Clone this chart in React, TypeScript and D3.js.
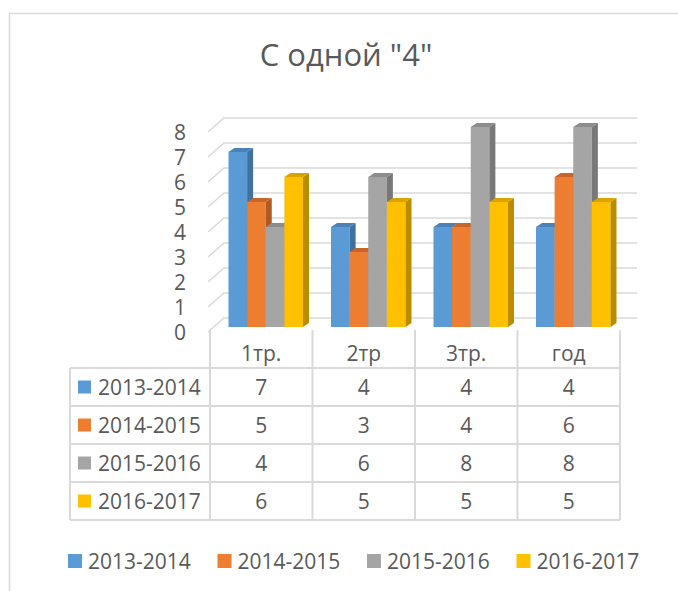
import React from 'react';
import * as d3 from 'd3';

const categories = ['1тр.', '2тр', '3тр.', 'год'];
const seriesNames = ['2013-2014', '2014-2015', '2015-2016', '2016-2017'];
const values2013 = [7, 4, 4, 4];
const values2014 = [5, 3, 4, 6];
const values2015 = [4, 6, 8, 8];
const values2016 = [6, 5, 5, 5];
const yTicks = [0, 1, 2, 3, 4, 5, 6, 7, 8];

const seriesValues = [values2013, values2014, values2015, values2016];
const fills = ['#5B9BD5', '#ED7D31', '#A5A5A5', '#FFC000'];
const sides = ['#41719C', '#AE5A21', '#787878', '#BC8C00'];
const tops = ['#4A82B8', '#C7662A', '#8C8C8C', '#D9A300'];

const W = 678;
const H = 591;
const FONT = '"Open Sans", "Liberation Sans", sans-serif';
const TEXT = '#595959';
const GRID = '#D9D9D9';

// 3d wall offset and bar depth offset
const wallDx = 16;
const wallDy = -14;
const barDx = 6;
const barDy = -4;

const App: React.FC = () => {
  const x = d3.scaleBand<string>().domain(categories).range([210, 620]);
  const y = d3.scaleLinear().domain([0, 8]).range([332, 132]);
  const barY = d3.scaleLinear().domain([0, 8]).range([327, 127]);
  const inner = d3.scaleBand<number>().domain([0, 1, 2, 3]).range([0, 74.5]);

  const rowTop = 368;
  const rowH = 38;
  const headerTop = 330;
  const labelLeft = 70;
  const wallRight = 637;

  return (
    <svg
      width={W}
      height={H}
      style={{ position: 'fixed', left: 0, top: 0, background: '#fff' }}
      fontFamily={FONT}
    >
      <rect x={9.5} y={13.5} width={800} height={800} fill="#fff" stroke={GRID} strokeWidth={1.5} />

      <text x={346} y={66} textAnchor="middle" fontSize={31} fill={TEXT}>
        С одной "4"
      </text>

      {/* back wall gridlines */}
      <g stroke={GRID} strokeWidth={1.5} fill="none">
        {yTicks.map(t => (
          <path
            key={t}
            d={`M${x.range()[0] - 2},${y(t)} L${x.range()[0] - 2 + wallDx},${y(t) + wallDy} L${wallRight},${y(t) + wallDy}`}
          />
        ))}
      </g>

      {yTicks.map(t => (
        <text key={t} x={186} y={y(t)} dy="0.36em" textAnchor="end" fontSize={21} fill={TEXT}>
          {t}
        </text>
      ))}

      {/* bars */}
      {categories.map((c, ci) => (
        <g key={c}>
          {seriesValues.map((vals, si) => {
            const x0 = (x(c) as number) + 18.5 + (inner(si) as number);
            const bw = inner.bandwidth();
            const yt = barY(vals[ci]);
            const yb = barY(0);
            return (
              <g key={si}>
                <rect x={x0} y={yt} width={bw} height={yb - yt} fill={fills[si]} />
                <path
                  d={`M${x0 + bw},${yt} L${x0 + bw + barDx},${yt + barDy} L${x0 + bw + barDx},${yb + barDy} L${x0 + bw},${yb} Z`}
                  fill={sides[si]}
                />
                <path
                  d={`M${x0},${yt} L${x0 + barDx},${yt + barDy} L${x0 + bw + barDx},${yt + barDy} L${x0 + bw},${yt} Z`}
                  fill={tops[si]}
                />
              </g>
            );
          })}
        </g>
      ))}

      {/* data table */}
      <g stroke={GRID} strokeWidth={2} fill="none">
        {x.domain().map(c => (
          <line key={c} x1={x(c)} x2={x(c)} y1={headerTop} y2={rowTop + rowH * 4} />
        ))}
        <line x1={x.range()[1]} x2={x.range()[1]} y1={headerTop} y2={rowTop + rowH * 4} />
        <line x1={labelLeft} x2={labelLeft} y1={rowTop} y2={rowTop + rowH * 4} />
        {[0, 1, 2, 3, 4].map(r => (
          <line key={r} x1={labelLeft} x2={x.range()[1]} y1={rowTop + r * rowH} y2={rowTop + r * rowH} />
        ))}
      </g>

      {categories.map(c => (
        <text
          key={c}
          x={(x(c) as number) + x.bandwidth() / 2}
          y={headerTop + 23}
          dy="0.36em"
          textAnchor="middle"
          fontSize={21}
          fill={TEXT}
        >
          {c}
        </text>
      ))}

      {seriesNames.map((name, si) => {
        const cy = rowTop + si * rowH + rowH / 2;
        return (
          <g key={name}>
            <rect x={78} y={cy - 6.5} width={13} height={13} fill={fills[si]} />
            <text x={98} y={cy} dy="0.36em" fontSize={21} fill={TEXT}>
              {name}
            </text>
            {categories.map((c, ci) => (
              <text
                key={c}
                x={(x(c) as number) + x.bandwidth() / 2}
                y={cy}
                dy="0.36em"
                textAnchor="middle"
                fontSize={21}
                fill={TEXT}
              >
                {seriesValues[si][ci]}
              </text>
            ))}
          </g>
        );
      })}

      {/* legend */}
      {seriesNames.map((name, si) => {
        const lx = 68 + si * 149.5;
        return (
          <g key={name}>
            <rect x={lx} y={554} width={14} height={14} fill={fills[si]} />
            <text x={lx + 20} y={561} dy="0.36em" fontSize={21} fill={TEXT}>
              {name}
            </text>
          </g>
        );
      })}
    </svg>
  );
};

export default App;
